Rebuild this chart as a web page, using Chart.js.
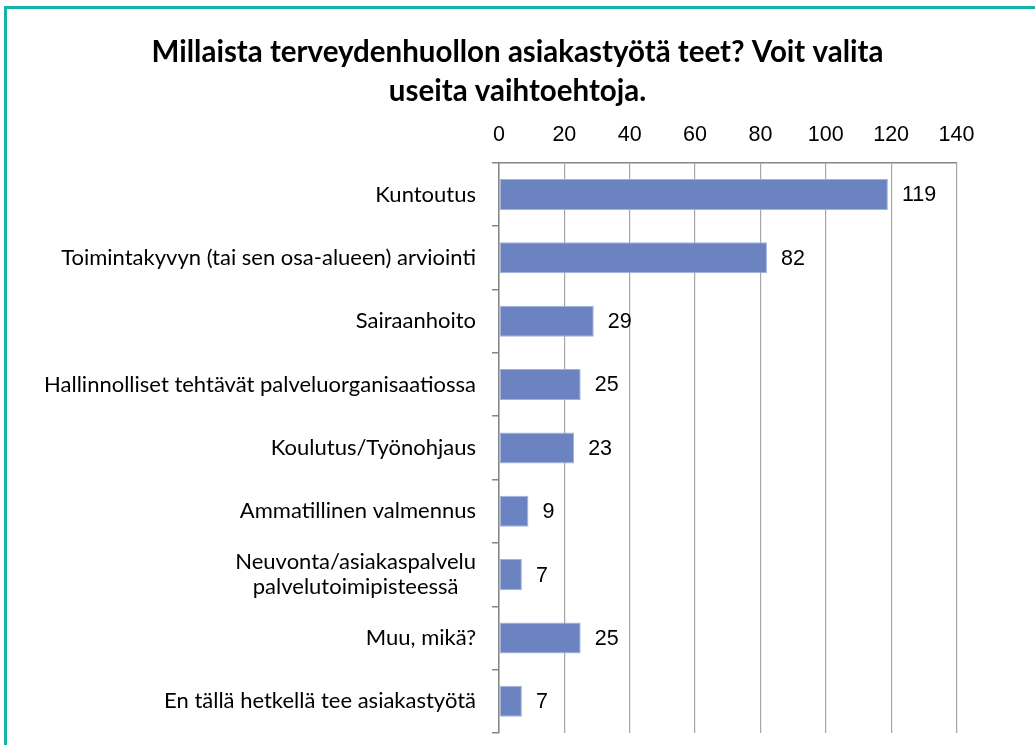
<!DOCTYPE html>
<html>
<head>
<meta charset="utf-8">
<script src="https://cdn.jsdelivr.net/npm/chart.js@4/dist/chart.umd.min.js"></script>
<style>
  html, body { margin: 0; padding: 0; background: #fff; }
  #wrap { position: relative; width: 1035px; height: 745px; overflow: hidden; background: #fff; }
  #frame { position: absolute; left: 4px; top: 6px; width: 1100px; height: 800px;
           border-left: 3px solid #17b2ad; border-top: 3px solid #17b2ad; }
  canvas { position: absolute; left: 0; top: 0; }
</style>
</head>
<body>
<div id="wrap">
  <div id="frame"></div>
  <canvas id="c" width="1035" height="745"></canvas>
</div>
<script>
const titleLines = ["Millaista terveydenhuollon asiakastyötä teet? Voit valita", "useita vaihtoehtoja."];
const categories = [
  "Kuntoutus",
  "Toimintakyvyn (tai sen osa-alueen) arviointi",
  "Sairaanhoito",
  "Hallinnolliset tehtävät palveluorganisaatiossa",
  "Koulutus/Työnohjaus",
  "Ammatillinen valmennus",
  ["Neuvonta/asiakaspalvelu", "palvelutoimipisteessä"],
  "Muu, mikä?",
  "En tällä hetkellä tee asiakastyötä"
];
const values = [119, 82, 29, 25, 23, 9, 7, 25, 7];
const axisMin = 0, axisMax = 140, axisStep = 20;

const titlePlugin = {
  id: 'centerTitle',
  afterDraw(chart) {
    const ctx = chart.ctx;
    ctx.save();
    ctx.fillStyle = '#000';
    ctx.font = 'bold 29.5px Lato, "Open Sans", sans-serif';
    ctx.textAlign = 'center';
    ctx.textBaseline = 'middle';
    const cx = chart.width / 2;
    titleLines.forEach((s, k) => ctx.fillText(s, cx, 52 + k * 39));
    ctx.restore();
  }
};

const yLabelPlugin = {
  id: 'yLabels',
  afterDraw(chart) {
    const ctx = chart.ctx, y = chart.scales.y;
    ctx.save();
    ctx.fillStyle = '#000';
    ctx.font = '22px Lato, "Open Sans", sans-serif';
    ctx.textBaseline = 'middle';
    const rightX = y.right - 23;
    categories.forEach((lab, i) => {
      const py = y.getPixelForValue(i);
      if (Array.isArray(lab)) {
        const w = Math.max(...lab.map(s => ctx.measureText(s).width));
        const cx = rightX - w / 2;
        ctx.textAlign = 'center';
        const lh = 25;
        lab.forEach((s, k) => {
          ctx.fillText(s, cx, py + (k - (lab.length - 1) / 2) * lh);
        });
      } else {
        ctx.textAlign = 'right';
        ctx.fillText(lab, rightX, py);
      }
    });
    ctx.restore();
  }
};

const valueLabelPlugin = {
  id: 'valueLabels',
  afterDatasetsDraw(chart) {
    const ctx = chart.ctx;
    const meta = chart.getDatasetMeta(0);
    ctx.save();
    ctx.fillStyle = '#000';
    ctx.font = '21.5px "Liberation Sans", Arial, sans-serif';
    ctx.textAlign = 'left';
    ctx.textBaseline = 'middle';
    meta.data.forEach((bar, i) => {
      ctx.fillText(String(values[i]), bar.x + 14, bar.y + 1);
    });
    ctx.restore();
  }
};

new Chart(document.getElementById('c'), {
  type: 'bar',
  data: {
    labels: categories,
    datasets: [{
      data: values,
      backgroundColor: '#6b84c1',
      borderColor: '#a3b2da',
      borderWidth: 1,
      borderSkipped: false,
      barPercentage: 0.49,
      categoryPercentage: 1.0
    }]
  },
  options: {
    indexAxis: 'y',
    responsive: false,
    animation: false,
    devicePixelRatio: 1,
    layout: { padding: { left: 0, right: 78.5, top: 107, bottom: 12 } },
    plugins: {
      legend: { display: false },
      tooltip: { enabled: false },
      title: { display: false }
    },
    scales: {
      x: {
        position: 'top',
        min: axisMin,
        max: axisMax,
        ticks: {
          stepSize: axisStep,
          color: '#000',
          padding: 15,
          font: { family: '"Liberation Sans", Arial, sans-serif', size: 21.5 }
        },
        grid: { color: '#a6a6a6', lineWidth: 1.2, drawTicks: false },
        border: { display: true, color: '#868686', width: 1.5 }
      },
      y: {
        ticks: { display: false },
        grid: { drawOnChartArea: false, drawTicks: true, tickLength: 7, color: '#868686', lineWidth: 1.5, offset: true },
        border: { display: true, color: '#868686', width: 1.5 },
        afterFit(scale) { scale.width = 499; }
      }
    }
  },
  plugins: [titlePlugin, yLabelPlugin, valueLabelPlugin]
});
</script>
</body>
</html>
